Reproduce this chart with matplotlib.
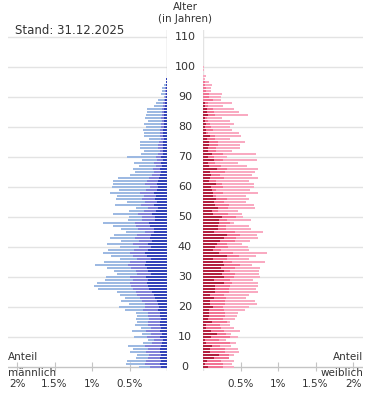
import numpy as np
import matplotlib
matplotlib.use("Agg")
import matplotlib.pyplot as plt
import matplotlib.transforms as mtransforms

# Population pyramid, Stand 31.12.2025 -- shares in % of total population
# three nested segments per side: dark (inner), dark+mid, total

male_total = [
    .373, .547, .533, .413, .40, .493, .453, .52, .32, .253,
    .44, .333, .467, .347, .427, .40, .413, .40, .413, .56,
    .64, .507, .613, .56, .627, .667, .92, .973, .933, .827,
    .813, .667, .707, .80, .96, .84, .627, .747, .853, .787,
    .627, .80, .613, .76, .707, .547, .613, .72, .853, .52,
    .507, .72, .507, .413, .693, .533, .68, .667, .76, .64,
    .733, .72, .72, .653, .493, .427, .453, .373, .44, .333,
    .533, .347, .307, .36, .36, .36, .24, .307, .307, .32,
    .28, .307, .253, .293, .28, .267, .267, .173, .147, .12,
    .04, .08, .067, .067, .04, .013, .013]
male_mid = [
    .23, .30, .28, .25, .24, .28, .26, .30, .20, .17,
    .27, .22, .28, .22, .26, .25, .24, .26, .25, .32,
    .30, .29, .33, .36, .40, .42, .45, .48, .50, .46,
    .49, .40, .42, .48, .52, .50, .40, .45, .49, .44,
    .38, .45, .37, .43, .40, .30, .39, .41, .43, .33,
    .34, .39, .31, .26, .35, .30, .33, .31, .36, .28,
    .23, .30, .27, .24, .20, .17, .19, .15, .17, .13,
    .15, .12, .10, .12, .12, .11, .08, .10, .10, .10,
    .08, .08, .07, .08, .07, .07, .07, .05, .05, .04,
    .03, .03, .03, .03, .02, .01, .01]
male_dark = [
    .08, .09, .08, .10, .08, .09, .10, .08, .07, .06,
    .09, .07, .10, .08, .09, .10, .08, .10, .09, .12,
    .11, .12, .14, .16, .18, .20, .24, .26, .27, .25,
    .28, .22, .25, .27, .30, .28, .22, .27, .29, .25,
    .22, .26, .20, .23, .22, .18, .17, .23, .24, .16,
    .16, .20, .15, .12, .18, .14, .16, .15, .17, .13,
    .12, .13, .12, .11, .09, .08, .09, .07, .08, .06,
    .08, .06, .05, .06, .06, .05, .04, .05, .05, .05,
    .04, .04, .04, .04, .04, .04, .04, .03, .03, .03,
    .02, .02, .02, .02, .01, .01, .01]

female_total = [
    .413, .387, .413, .28, .413, .48, .467, .373, .44, .307,
    .467, .373, .493, .413, .36, .36, .427, .453, .467, .56,
    .613, .72, .693, .573, .613, .733, .707, .733, .733, .667,
    .76, .747, .747, .76, .653, .827, .613, .707, .853, .613,
    .60, .52, .627, .733, .72, .80, .64, .613, .413, .64,
    .533, .52, .467, .693, .68, .573, .613, .573, .733, .627,
    .68, .68, .613, .733, .653, .693, .733, .587, .467, .72,
    .32, .707, .387, .493, .493, .56, .36, .507, .48, .387,
    .36, .413, .36, .253, .60, .48, .413, .267, .387, .24,
    .24, .253, .107, .107, .12, .08, .027, .04, 0, .01, .01]
female_mid = [
    .267, .267, .24, .347, .347, .293, .293, .227, .36, .213,
    .36, .30, .28, .24, .227, .32, .267, .293, .293, .28,
    .267, .293, .293, .307, .28, .347, .347, .36, .387, .36,
    .413, .427, .36, .427, .493, .387, .32, .48, .40, .24,
    .333, .32, .427, .44, .493, .427, .307, .307, .36, .32,
    .44, .333, .20, .333, .347, .28, .32, .173, .267, .173,
    .267, .253, .173, .28, .227, .293, .32, .24, .16, .267,
    .147, .267, .173, .173, .20, .20, .16, .16, .067, .133,
    .107, .093, .067, .053, .16, .147, .133, .067, .067, .133,
    .08, .08, .04, .04, .027, .027, 0, 0, 0, 0, 0]
female_dark = [
    .067, .027, .053, .147, .213, .093, .093, .12, .04, .027,
    .107, .187, .107, .04, .04, .12, .067, .08, .08, .08,
    .133, .093, .093, .147, .093, .16, .16, .16, .28, .147,
    .28, .253, .28, .24, .28, .267, .133, .32, .213, .133,
    .16, .187, .227, .28, .32, .147, .20, .20, .213, .213,
    .253, .133, .12, .20, .16, .147, .173, .133, .133, .12,
    .107, .173, .08, .093, .107, .093, .187, .08, .067, .147,
    .067, .12, .067, .067, .08, .08, .053, .093, .04, .04,
    .027, .04, .027, .027, .067, .053, .053, .027, .027, 0,
    0, 0, 0, 0, 0, 0, 0, 0, 0, 0, 0]

age_ticks = list(range(0, 111, 10))
pct_ticks = [0.5, 1, 1.5, 2]
pct_labels = ["0.5%", "1%", "1.5%", "2%"]

male_colors = ["#9db9e2", "#8383d9", "#3342b8"]
female_colors = ["#f9aac1", "#f27394", "#b3203f"]

plt.rcParams['font.family'] = ['DejaVu Sans']
W, H = 375, 416
fig = plt.figure(figsize=(W / 100, H / 100), dpi=100)

y0_px = 366.7      # pixel row of age 0
top_px = 30.0
ylo, yhi = -1.5, (y0_px - top_px) / 3.0
bot_px = y0_px + 1.5 * 3
b = (H - bot_px) / H
h = (bot_px - top_px) / H

ax_l = fig.add_axes([8 / W, b, (167 - 8) / W, h])
ax_r = fig.add_axes([203 / W, b, (363 - 203) / W, h])

ages_m = np.arange(len(male_total))
ages_f = np.arange(len(female_total))
bh = 0.72

for ax, ages, tot, mid, dark, cols in [
        (ax_l, ages_m, male_total, male_mid, male_dark, male_colors),
        (ax_r, ages_f, female_total, female_mid, female_dark, female_colors)]:
    ax.barh(ages, tot, height=bh, color=cols[0], zorder=3, linewidth=0)
    ax.barh(ages, mid, height=bh, color=cols[1], zorder=4, linewidth=0)
    ax.barh(ages, dark, height=bh, color=cols[2], zorder=5, linewidth=0)
    ax.set_ylim(ylo, yhi)
    for a in age_ticks[1:]:
        ax.axhline(a, color="#e3e3e3", lw=1, zorder=1)
    ax.axhline(0, color="#c4c4c4", lw=1, zorder=2)
    for s in ax.spines.values():
        s.set_visible(False)
    ax.set_yticks([])
    ax.set_xticks(pct_ticks)
    ax.set_xticklabels(pct_labels)
    ax.tick_params(axis="x", length=6.5, direction="in", color="#c4c4c4",
                   labelsize=7.5, labelcolor="#333333", pad=5.5)
    ax.xaxis.set_ticks_position("bottom")
    ax.patch.set_alpha(0)

ax_l.set_xlim(2.12, 0)
ax_r.set_xlim(0, 2.133)
ax_l.axvline(0, ymin=0, ymax=1, color="#c4c4c4", lw=1, zorder=2)
ax_r.axvline(0, ymin=0, ymax=1, color="#e3e3e3", lw=1, zorder=2)

# age labels in the centre gap
tr = mtransforms.blended_transform_factory(fig.transFigure, ax_l.transData)
for a in age_ticks:
    fig.text(185 / W, a, str(a), transform=tr, ha="center", va="center",
             fontsize=8, color="#333333")

fig.text(185 / W, 1 - 7 / H, "Alter", ha="center", va="center",
         fontsize=7.5, color="#333333")
fig.text(185 / W, 1 - 19 / H, "(in Jahren)", ha="center", va="center",
         fontsize=7.5, color="#333333")
fig.text(15 / W, 1 - 31 / H, "Stand: 31.12.2025", ha="left", va="center",
         fontsize=8.5, color="#333333")

fig.text(8 / W, 1 - 357 / H, "Anteil", ha="left", va="center",
         fontsize=7.5, color="#333333")
fig.text(8 / W, 1 - 373 / H, "männlich", ha="left", va="center",
         fontsize=7.5, color="#333333")
fig.text(363 / W, 1 - 357 / H, "Anteil", ha="right", va="center",
         fontsize=7.5, color="#333333")
fig.text(363 / W, 1 - 373 / H, "weiblich", ha="right", va="center",
         fontsize=7.5, color="#333333")

fig.savefig("out.png", dpi=100)
